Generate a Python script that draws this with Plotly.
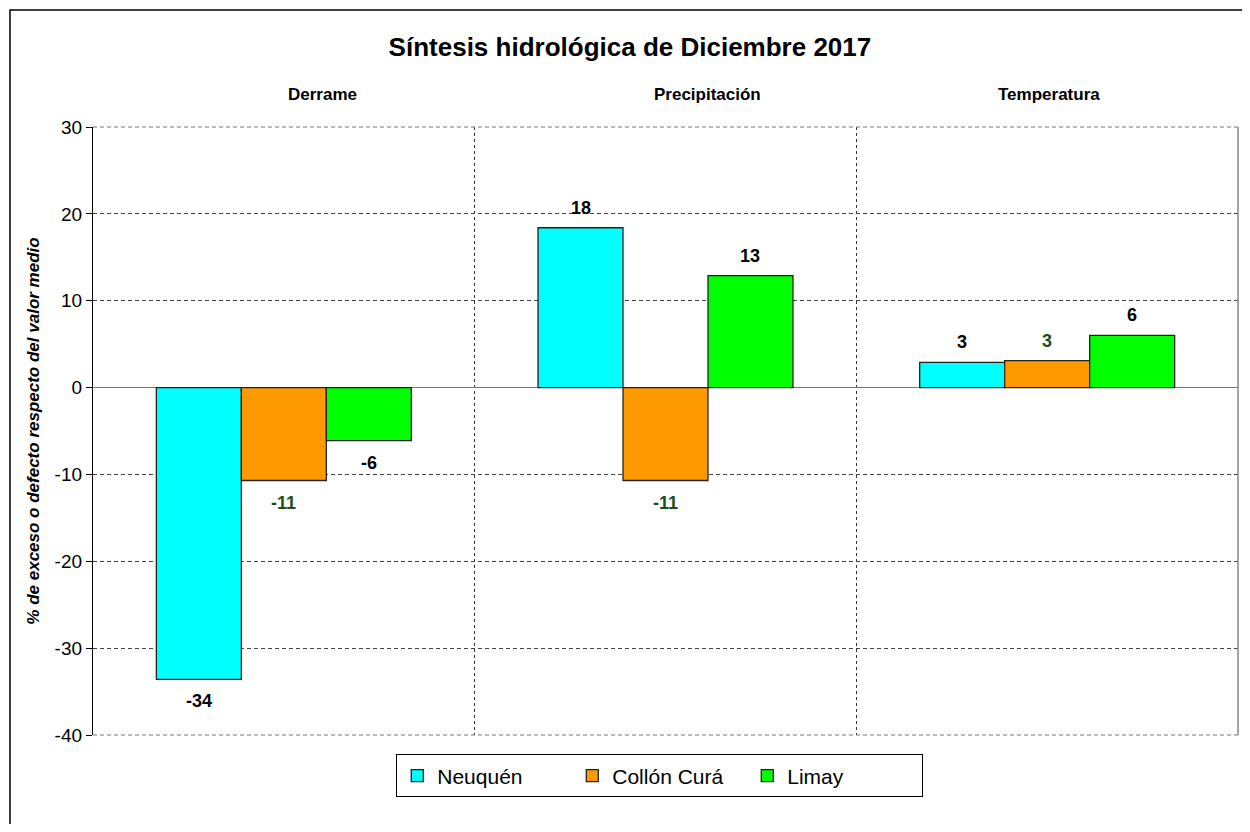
import plotly.graph_objects as go

categories = ["Derrame", "Precipitación", "Temperatura"]
series_names = ["Neuquén", "Collón Curá", "Limay"]
neuquen = [-33.6, 18.4, 2.9]
collon_cura = [-10.7, -10.7, 3.1]
limay = [-6.1, 12.9, 6.0]
neuquen_labels = ["-34", "18", "3"]
collon_labels = ["-11", "-11", "3"]
limay_labels = ["-6", "13", "6"]
y_ticks = [30, 20, 10, 0, -10, -20, -30, -40]

colors = ["#00FFFF", "#FF9900", "#00FF00"]
label_colors = ["#000000", "#1E4D1E", "#000000"]
all_values = [neuquen, collon_cura, limay]
all_labels = [neuquen_labels, collon_labels, limay_labels]

FONT = "Liberation Sans, Arial, sans-serif"
bargap = 0.332

fig = go.Figure()
for name, vals, col in zip(series_names, all_values, colors):
    fig.add_trace(go.Bar(
        x=list(range(len(categories))), y=vals, name=name,
        marker=dict(color=col, line=dict(color="#222222", width=1.3)),
    ))

w = (1 - bargap) / 3
annotations = []
for si, (vals, labs) in enumerate(zip(all_values, all_labels)):
    for ci, (v, lab) in enumerate(zip(vals, labs)):
        annotations.append(dict(
            x=ci + (si - 1) * w, y=v, xref="x", yref="y", text=f"<b>{lab}</b>",
            showarrow=False, yshift=20 if v >= 0 else -22, yanchor="middle",
            font=dict(family=FONT, size=18, color=label_colors[si]),
        ))

# category titles on top
cat_offsets = [0.10, 0.11, 0.005]
for ci, (cat, off) in enumerate(zip(categories, cat_offsets)):
    annotations.append(dict(
        x=ci + off, y=1.053, xref="x", yref="paper", text=f"<b>{cat}</b>",
        showarrow=False, yanchor="middle",
        font=dict(family=FONT, size=17, color="#000000"),
    ))

DASH = "4px,3px"
fig.update_layout(
    width=1234, height=816,
    margin=dict(l=85, r=4, t=119, b=89, autoexpand=False),
    paper_bgcolor="white", plot_bgcolor="white",
    bargap=bargap, bargroupgap=0,
    title=dict(text="<b>Síntesis hidrológica de Diciembre 2017</b>", x=0.504, xanchor="center",
               y=0.952, yanchor="middle",
               font=dict(family=FONT, size=26, color="#000000")),
    font=dict(family=FONT, color="#000000"),
    annotations=annotations,
    legend=dict(orientation="h", x=0.495, xanchor="center", y=-0.032, yanchor="top",
                bordercolor="#000000", borderwidth=1, bgcolor="white",
                font=dict(family=FONT, size=21, color="#000000"),
                itemwidth=30, entrywidthmode="pixels", entrywidth=130,
                traceorder="normal"),
    xaxis=dict(range=[-0.5, 2.5], tickmode="array", tickvals=[0.5, 1.5],
               ticktext=["", ""], side="top",
               showgrid=True, gridcolor="#333333", griddash="3px,3px", gridwidth=1,
               ticks="", showline=False, zeroline=False, fixedrange=True),
    yaxis=dict(range=[-40, 30], tickvals=y_ticks, ticktext=[str(t) for t in y_ticks],
               showgrid=True, gridcolor="#444444", griddash=DASH, gridwidth=1,
               zeroline=True, zerolinecolor="#777777", zerolinewidth=1.3,
               showline=True, linecolor="#000000", linewidth=1.3,
               ticks="outside", ticklen=6, tickcolor="#000000",
               tickfont=dict(family=FONT, size=19, color="#000000"),
               title=dict(text="<b><i>% de exceso o defecto respecto del valor medio</i></b>",
                          font=dict(family=FONT, size=17, color="#000000"), standoff=10)),
    shapes=[
        dict(type="line", xref="paper", yref="paper", x0=0, x1=1, y0=1, y1=1,
             line=dict(color="#777777", width=1.2, dash=DASH)),
        dict(type="line", xref="paper", yref="paper", x0=0, x1=1, y0=0, y1=0,
             line=dict(color="#777777", width=1.2, dash=DASH)),
        dict(type="line", xref="paper", yref="paper", x0=1, x1=1, y0=0, y1=1,
             line=dict(color="#888888", width=1.5)),
        dict(type="rect", xref="paper", yref="paper", x0=-0.0725, x1=1.05, y0=-0.25, y1=1.1924,
             line=dict(color="#000000", width=1.5)),
    ],
)

fig.write_html("out.html")
